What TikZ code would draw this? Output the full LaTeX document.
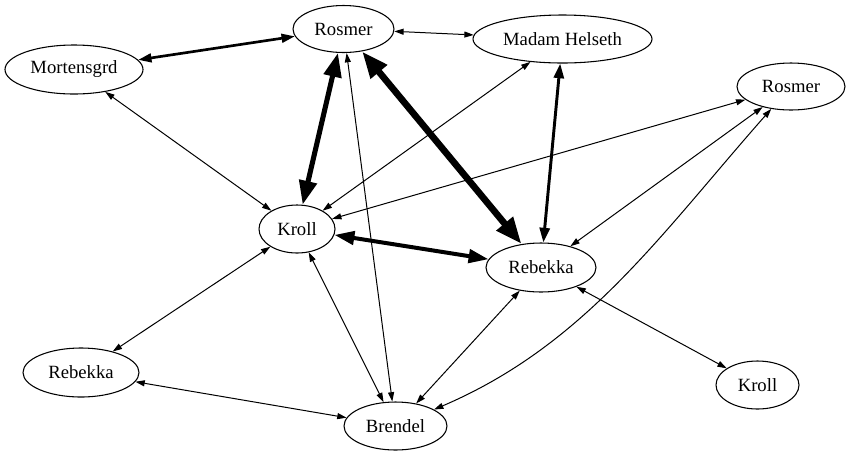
\documentclass[tikz,border=0pt]{standalone}
\usepackage{fontspec}
\setmainfont{Liberation Serif}
\usetikzlibrary{shapes.geometric,arrows.meta}
\begin{document}
\begin{tikzpicture}[x=0.75pt,y=-0.75pt,
  ell/.style 2 args={ellipse,draw,line width=0.8pt,inner sep=0pt,
     minimum width=#1,minimum height=#2,font=\fontsize{14}{16}\selectfont},
  thin edge/.style={line width=0.75pt,{Triangle[length=7pt,width=4.5pt]}-{Triangle[length=7pt,width=4.5pt]}},
  edge RM/.style={line width=2pt,{Triangle[length=10pt,width=6.5pt]}-{Triangle[length=10pt,width=6.5pt]}},
  edge MR/.style={line width=2.2pt,{Triangle[length=11pt,width=7.5pt]}-{Triangle[length=11pt,width=7.5pt]}},
  edge KR/.style={line width=3pt,{Triangle[length=15pt,width=10pt]}-{Triangle[length=15pt,width=10pt]}},
  edge RK/.style={line width=3.8pt,{Triangle[length=18pt,width=13pt]}-{Triangle[length=18pt,width=13pt]}},
  edge RR/.style={line width=5pt,{Triangle[length=20pt,width=15pt]}-{Triangle[length=20pt,width=15pt]}}
]
\useasboundingbox (0,0) rectangle (850,455);
\node[ell={75.75pt}{35.25pt}] (R1) at (343.5,29) {Rosmer};
\node[ell={134.25pt}{36pt}] (MH) at (562.5,39) {Madam Helseth};
\node[ell={103.5pt}{36.75pt}] (Mo) at (74,69.5) {Mortensgrd};
\node[ell={81pt}{35.25pt}] (R2) at (791,86.5) {Rosmer};
\node[ell={57pt}{36pt}] (K1) at (297,229) {Kroll};
\node[ell={82.5pt}{36.75pt}] (Rb1) at (541,267.5) {Rebekka};
\node[ell={87pt}{36.75pt}] (Rb2) at (81,372.5) {Rebekka};
\node[ell={77.25pt}{36pt}] (Br) at (395.5,426) {Brendel};
\node[ell={62.25pt}{36pt}] (K2) at (757.5,385) {Kroll};

\draw[edge RM] (Mo) -- (R1);
\draw[thin edge] (R1) -- (MH);
\draw[edge RK] (R1) -- (K1);
\draw[edge RR] (R1) -- (Rb1);
\draw[thin edge] (R1) -- (Br);
\draw[edge MR] (MH) -- (Rb1);
\draw[thin edge] (MH) -- (K1);
\draw[thin edge] (Mo) -- (K1);
\draw[thin edge] (R2) -- (K1);
\draw[thin edge] (R2) -- (Rb1);
\draw[thin edge] (R2) .. controls (660,235) and (585,345) .. (Br);
\draw[edge KR] (K1) -- (Rb1);
\draw[thin edge] (K1) -- (Rb2);
\draw[thin edge] (K1) -- (Br);
\draw[thin edge] (Rb2) -- (Br);
\draw[thin edge] (Rb1) -- (Br);
\draw[thin edge] (Rb1) -- (K2);
\end{tikzpicture}
\end{document}
